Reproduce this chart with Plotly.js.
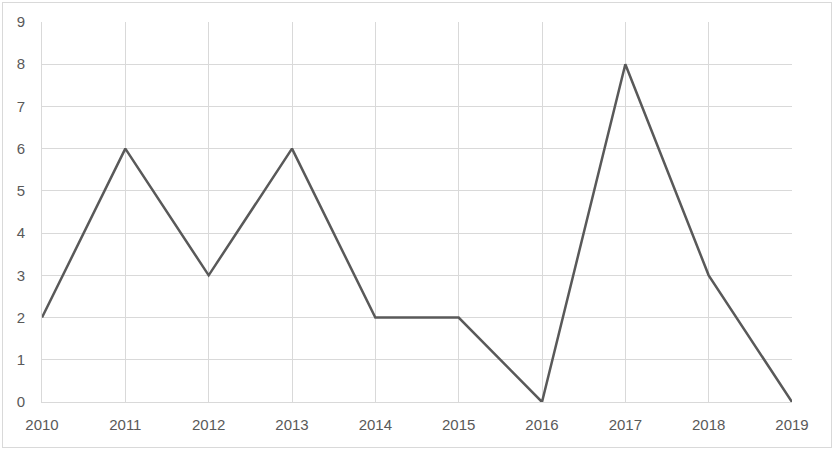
<!DOCTYPE html>
<html>
<head>
<meta charset="utf-8">
<script src="https://cdn.plot.ly/plotly-3.0.1.min.js"></script>
<style>
  html, body { margin: 0; padding: 0; background: #fff; }
  #wrap { position: relative; width: 834px; height: 450px; }
  #chart { width: 834px; height: 450px; }
  #frame { position: absolute; left: 2px; top: 2px; right: 2px; bottom: 2px;
           border: 1px solid #d9d9d9; pointer-events: none; }
</style>
</head>
<body>
<div id="wrap">
  <div id="chart"></div>
  <div id="frame"></div>
</div>
<script>
const years = ['2010', '2011', '2012', '2013', '2014', '2015', '2016', '2017', '2018', '2019'];
const counts = [2, 6, 3, 6, 2, 2, 0, 8, 3, 0];
const yTicks = [0, 1, 2, 3, 4, 5, 6, 7, 8, 9];

const trace = {
    x: years,
    y: counts,
    mode: 'lines',
    type: 'scatter',
    line: { color: '#595959', width: 2.5 },
    cliponaxis: false
};

const layout = {
    width: 834,
    height: 450,
    margin: { l: 42, r: 42, t: 22, b: 48 },
    paper_bgcolor: 'rgba(0,0,0,0)',
    plot_bgcolor: '#ffffff',
    showlegend: false,
    font: { family: 'Liberation Sans, Arial, sans-serif', size: 15, color: '#595959' },
    xaxis: {
        type: 'category',
        range: [0, years.length - 1],
        showgrid: true,
        gridcolor: '#d9d9d9',
        showline: true,
        linecolor: '#d9d9d9',
        ticks: '',
        ticklabelstandoff: 9,
        tickfont: { size: 15, color: '#595959' }
    },
    yaxis: {
        range: [0, 9],
        tickvals: yTicks,
        showgrid: true,
        gridcolor: '#d9d9d9',
        zeroline: false,
        showline: true,
        linecolor: '#d9d9d9',
        ticks: '',
        ticklabelstandoff: 13,
        tickfont: { size: 15, color: '#595959' }
    }
};

Plotly.newPlot('chart', [trace], layout, { staticPlot: true });
</script>
</body>
</html>
